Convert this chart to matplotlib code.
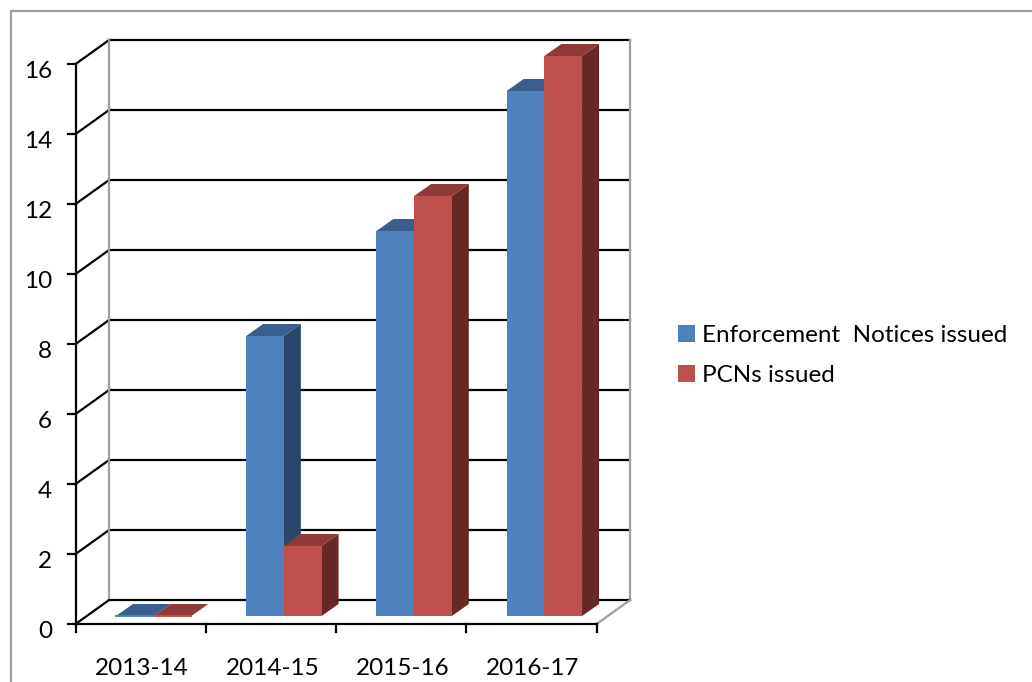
import matplotlib
matplotlib.use("Agg")
import matplotlib.pyplot as plt
from matplotlib.patches import Polygon, Patch, Rectangle

categories = ["2013-14", "2014-15", "2015-16", "2016-17"]
enforcement = [0, 8, 11, 15]
pcns = [0, 2, 12, 16]
series_names = ["Enforcement  Notices issued", "PCNs issued"]
yticks = [0, 2, 4, 6, 8, 10, 12, 14, 16]

BLUE = ("#4F81BD", "#3A5F8D", "#2B4669")
RED = ("#C0504D", "#8E3A38", "#672825")

plt.rcParams["font.family"] = ["Lato", "DejaVu Sans"]
W, H = 1032, 682
fig = plt.figure(figsize=(W / 100, H / 100), dpi=100, facecolor="white")

# outer frame
fig.add_artist(Rectangle((11 / W, -0.1), 1.2, 1.1 - 10.5 / H, transform=fig.transFigure,
                         fill=False, ec="#A0A0A0", lw=1.6))

L, R, T, B = 75.6, 596.6, 64, 624
ax = fig.add_axes([L / W, 1 - B / H, (R - L) / W, (B - T) / H])
ax.set_xlim(0, len(categories))
ax.set_ylim(0, 16)
ax.axis("off")

ux = (R - L) / len(categories)   # pixels per category
uy = (B - T) / 16                # pixels per value unit
wx, wy = 33.5 / ux, 24 / uy      # wall depth
fy = 8 / uy                      # bar front offset from floor front
dx, dy = 17 / ux, 12 / uy        # bar depth
bw = 37.7 / ux                   # bar width
n = len(categories)

def line(xs, ys, c="black", lw=1.6, z=1):
    ax.plot(xs, ys, color=c, lw=lw, clip_on=False, zorder=z, solid_capstyle="projecting")

# back wall gridlines and side wall diagonals
for v in yticks:
    if v > 0:
        line([wx, n + wx], [v + wy, v + wy])
    line([0, wx], [v, v + wy])
line([wx, wx], [wy, 16 + wy], c="#A0A0A0")
line([n + wx, n + wx], [wy, 16 + wy], c="#A0A0A0")
line([wx, n + wx], [wy, wy])
line([n, n + wx], [0, wy], c="#A0A0A0")
line([0, 0], [0, 16], z=5)
line([0, n], [0, 0], z=5)

# ticks
for v in yticks:
    line([-8 / ux, 0], [v, v], z=5)
    ax.text(-23.5 / ux, v - 7 / uy, str(v), ha="right", va="center", fontsize=17.5, clip_on=False)
for i in range(n + 1):
    ax.plot([i, i], [0, -8 / uy], color="black", lw=1.6, clip_on=False, zorder=5)
for i, c in enumerate(categories):
    ax.text(i + 0.5 + 1.5 / ux, -44.5 / uy, c, ha="center", va="center", fontsize=17.5, clip_on=False)

def bar3d(x0, v, cols, z):
    x1 = x0 + bw
    y0 = fy
    top = v + fy
    ax.add_patch(Polygon([(x1, y0), (x1 + dx, y0 + dy), (x1 + dx, top + dy), (x1, top)],
                         fc=cols[2], ec="none", clip_on=False, zorder=z))
    ax.add_patch(Polygon([(x0, top), (x0 + dx, top + dy), (x1 + dx, top + dy), (x1, top)],
                         fc=cols[1], ec="none", clip_on=False, zorder=z))
    if v > 0:
        ax.add_patch(Polygon([(x0, y0), (x1, y0), (x1, top), (x0, top)],
                             fc=cols[0], ec="none", clip_on=False, zorder=z + 0.1))
    else:
        ax.plot([x0, x1], [y0, y0], color=cols[0], lw=1.4, clip_on=False, zorder=z + 0.1)

for i in range(n):
    start = i + 40.3 / ux
    bar3d(start, enforcement[i], BLUE, 3 + i)
    bar3d(start + bw, pcns[i], RED, 3.5 + i)

handles = [Patch(fc=BLUE[0], ec="none"), Patch(fc=RED[0], ec="none")]
fig.legend(handles, series_names, loc="upper left",
           bbox_to_anchor=(678 / W, 1 - 324.5 / H), frameon=False, fontsize=17.5,
           handlelength=0.7, handleheight=0.7, handletextpad=0.28, labelspacing=0.785,
           borderpad=0, borderaxespad=0)

fig.savefig("out.png", dpi=100, facecolor="white")
